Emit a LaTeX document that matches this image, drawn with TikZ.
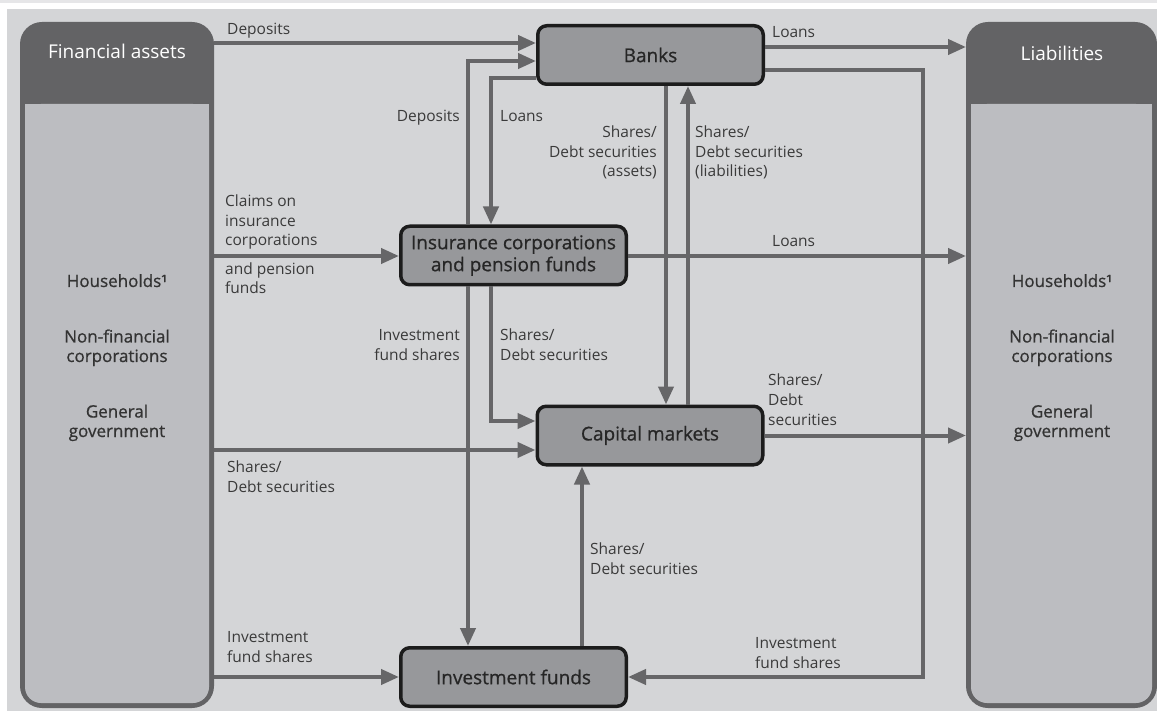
\documentclass[tikz,border=0pt]{standalone}
\usepackage{fontspec}
\setmainfont{Open Sans}
\newfontfamily\medfont{Open Sans}[FakeBold=0.8]
\usetikzlibrary{arrows.meta}
\definecolor{bgc}{HTML}{D4D5D7}
\definecolor{stripc}{HTML}{E6E6E8}
\definecolor{panelc}{HTML}{BCBDC1}
\definecolor{darkc}{HTML}{636365}
\definecolor{boxc}{HTML}{97989B}
\definecolor{arrc}{HTML}{666668}
\definecolor{txtc}{HTML}{3A3A3A}
\definecolor{edgec}{HTML}{1C1C1C}
\tikzset{
  colbox/.style={fill=darkc, rounded corners=22pt, inner sep=0pt, outer sep=0pt},
  hdr/.style={font=\fontsize{19}{23}\selectfont, text=white, anchor=base, inner sep=0pt},
  coltxt/.style={font=\medfont\fontsize{17}{19.5}\selectfont, text=black!80, anchor=base, align=center, inner sep=0pt},
  flowbox/.style={draw=edgec, line width=3.5pt, fill=boxc, rounded corners=9pt,
    minimum width=225.5pt, minimum height=58.5pt, inner sep=0pt, align=center,
    font=\medfont\fontsize{19}{22}\selectfont, text=black!85},
  arr/.style={draw=arrc, line width=4pt, -{Triangle[length=18pt,width=15pt]}},
  lbl/.style={font=\fontsize{15.5}{19.7}\selectfont, text=txtc, inner sep=0pt},
  lblw/.style={lbl, anchor=base west, align=left},
  lble/.style={lbl, anchor=base east, align=right}
}
\begin{document}
\begin{tikzpicture}[x=1pt,y=-1pt]
\useasboundingbox (0,0) rectangle (1157,711);
\fill[stripc] (0,0) rectangle (1157,3);
\fill[bgc] (7,9) rectangle (1157,711);

% columns
\node[colbox, minimum width=194pt, minimum height=686pt] (fa) at (117,365) {};
\fill[panelc, rounded corners=16pt] (25,104) rectangle (209,703);
\fill[panelc] (25,104) rectangle (209,140);
\node[hdr] (fahdr) at (117,59) {Financial assets};
\node[coltxt] (fa1) at (117,287) {Households¹};
\node[coltxt] (fa2) at (117,362) {Non-financial\\corporations};
\node[coltxt] (fa3) at (117,437) {General\\government};

\node[colbox, minimum width=191pt, minimum height=686pt] (li) at (1061.5,365) {};
\fill[panelc, rounded corners=16pt] (971,104) rectangle (1152,703);
\fill[panelc] (971,104) rectangle (1152,140);
\node[hdr] (lihdr) at (1062,61) {Liabilities};
\node[coltxt] (li1) at (1062,287) {Households¹};
\node[coltxt] (li2) at (1062,362) {Non-financial\\corporations};
\node[coltxt] (li3) at (1062,437) {General\\government};

% boxes
\node[flowbox] (banks) at (650.5,55) {Banks};
\node[flowbox] (ins) at (513.5,255.5) {Insurance corporations\\and pension funds};
\node[flowbox] (cm) at (650,435.5) {Capital markets};
\node[flowbox] (if) at (513.5,677) {Investment funds};

% helper coordinates
\coordinate (p0) at (0,43);
\coordinate (p1) at (468,61);
\coordinate (p2) at (491,78);
\coordinate (p3) at (666,0);
\coordinate (p4) at (688,0);
\coordinate (p5) at (0,47);
\coordinate (p6) at (923,70);
\coordinate (p7) at (0,256);
\coordinate (p8) at (491,421);
\coordinate (p9) at (0,450);
\coordinate (p10) at (582,0);

% connectors
\draw[arr] (fa.east |- p0) -- (banks.west |- p0);
\draw[arr] (ins.north -| p1) |- (banks.west |- p1);
\draw[arr] (banks.west |- p2) -| (ins.north -| p2);
\draw[arr] (banks.south -| p3) -- (cm.north -| p3);
\draw[arr] (cm.north -| p4) -- (banks.south -| p4);
\draw[arr] (banks.east |- p5) -- (li.west |- p5);
\draw[arr] (banks.east |- p6) -| (if.east -| p6) -- (if.east);
\draw[arr] (fa.east |- p7) -- (ins.west |- p7);
\draw[arr] (ins.east |- p7) -- (li.west |- p7);
\draw[arr] (ins.south -| p1) -- (if.north -| p1);
\draw[arr] (ins.south -| p8) |- (cm.west |- p8);
\draw[arr] (fa.east |- p9) -- (cm.west |- p9);
\draw[arr] (cm.east) -- (li.west |- cm.east);
\draw[arr] (if.north -| p10) -- (cm.south -| p10);
\draw[arr] (fa.east |- if.west) -- (if.west);

% labels (anchor = baseline of last line)
\node[lblw] (l1) at (227,35) {Deposits};
\node[lble] (l2) at (460,122) {Deposits};
\node[lblw] (l3) at (500,122) {Loans};
\node[lble] (l4) at (657,177) {Shares/\\Debt securities\\(assets)};
\node[lblw] (l5) at (695,177) {Shares/\\Debt securities\\(liabilities)};
\node[lblw] (l6) at (772,38) {Loans};
\node[lblw] (l7) at (225,246) {Claims on\\insurance\\corporations};
\node[lblw] (l8) at (225,294) {and pension\\funds};
\node[lblw] (l9) at (772,247) {Loans};
\node[lble] (l10) at (460,360) {Investment\\fund shares};
\node[lblw] (l11) at (500,360) {Shares/\\Debt securities};
\node[lblw] (l12) at (768,425) {Shares/\\Debt\\securities};
\node[lblw] (l13) at (227,492) {Shares/\\Debt securities};
\node[lblw] (l14) at (590,574) {Shares/\\Debt securities};
\node[lblw] (l15) at (227,662) {Investment\\fund shares};
\node[lblw] (l16) at (755,668) {Investment\\fund shares};
\end{tikzpicture}
\end{document}
